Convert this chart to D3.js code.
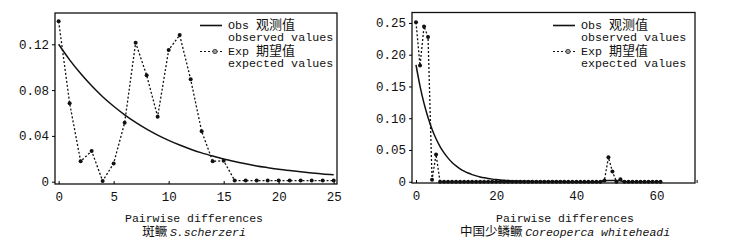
<!DOCTYPE html>
<html>
<head>
<meta charset="utf-8">
<script src="https://cdn.jsdelivr.net/npm/d3@7"></script>
<style>
body{margin:0;background:#fff;}
svg{display:block;}
text{font-family:"Liberation Mono","DejaVu Sans Mono",monospace;fill:#111;}
.cjk{font-family:"Noto Sans CJK SC",sans-serif;}
</style>
</head>
<body>
<svg id="chart" width="751" height="251"></svg>
<script>
// left panel: S. scherzeri
const diffL = d3.range(0, 26);
const obsL = [0.120,0.1064,0.0944,0.0837,0.0742,0.0659,0.0584,0.0518,0.0459,0.0407,0.0361,0.0320,0.0284,0.0252,0.0224,0.0198,0.0176,0.0156,0.0138,0.0123,0.0109,0.0097,0.0086,0.0076,0.0067,0.0060];
const expL = [0.140,0.0685,0.0178,0.0268,0.0006,0.016,0.0515,0.1214,0.0929,0.0568,0.115,0.128,0.0894,0.044,0.0178,0.0183,0.001,0.001,0.001,0.001,0.001,0.001,0.001,0.001,0.001,0.001];
const yTicksL = [0, 0.04, 0.08, 0.12];
const xTicksL = [0, 5, 10, 15, 20, 25];

// right panel: Coreoperca whiteheadi
const diffR = d3.range(0, 62);
const obsR = [0.184,0.1506,0.1233,0.1010,0.0827,0.0677,0.0554,0.0454,0.0372,0.0304,0.0249,0.0204,0.0167,0.0137,0.0112,0.0092,0.0075,0.0061,0.0050,0.0041,0.0034,0.0028,0.0023,0.0018,0.0015,0.0012,0.0010,0.0008,0.0007,0.0006,0.0005,
  0.0004,0.0004,0.0003,0.0003,0.0002,0.0002,0.0002,0.0001,0.0001,0.0001,0.0001,0.0001,0.0001,0.0001,0.0001,0.0001,0.0015,0.002,0.002,0.002,0.0015,0.0001,0.0001,0.0001,0.0001,0.0001,0.0001,0.0001,0.0001,0.0001,0.0001];
const expR = [0.251,0.183,0.2445,0.228,0.003,0.043,
  0,0,0,0,0,0,0,0,0,0,0,0,0,0,0,0,0,0,0,0,0,0,0,0,0,0,0,0,0,0,0,0,0,0,0,0,0,0,0,0,0,
  0.002,0.0385,0.016,0,0.004,0,0,0,0,0,0,0,0,0,0];
const yTicksR = [0, 0.05, 0.10, 0.15, 0.20, 0.25];
const xTicksR = [0, 20, 40, 60, 70];

const svg = d3.select('#chart');
svg.append('rect').attr('width',751).attr('height',251).attr('fill','#fff');

function drawPanel(o){
    let g = svg.append('g');
    let x = d3.scaleLinear().domain(o.xDom).range([o.left, o.right]);
    let y = d3.scaleLinear().domain(o.yDom).range([o.bottom, o.top]);

    // frame
    g.append('rect').attr('x',o.left).attr('y',o.top)
      .attr('width',o.right-o.left).attr('height',o.bottom-o.top)
      .attr('fill','none').attr('stroke','#111').attr('stroke-width',1.3);

    let ya = g.append('g').attr('transform',`translate(${o.left},0)`)
      .call(d3.axisLeft(y).tickValues(o.yTicks).tickSize(3).tickPadding(3).tickFormat(o.yFmt));
    ya.select('.domain').remove();
    ya.selectAll('text').style('font-size','12.5px').style('font-family','"Liberation Mono",monospace');

    let xa = g.append('g').attr('transform',`translate(0,${o.bottom})`)
      .call(d3.axisBottom(x).tickValues(o.xTicks).tickSize(-3).tickPadding(8)
        .tickFormat(d => o.xLabels.includes(d) ? d3.format('d')(d) : ''));
    xa.select('.domain').remove();
    xa.selectAll('text').style('font-size','12.5px').style('font-family','"Liberation Mono",monospace');

    // observed: solid
    let line = d3.line().x((d,i)=>x(o.diff[i])).y(d=>y(d)).curve(d3.curveMonotoneX);
    g.append('path').datum(o.obs).attr('d',line)
      .attr('fill','none').attr('stroke','#111').attr('stroke-width',1.5);

    // expected: dotted with markers
    let line2 = d3.line().x((d,i)=>x(o.diff[i])).y(d=>y(d));
    g.append('path').datum(o.exp).attr('d',line2)
      .attr('fill','none').attr('stroke','#111').attr('stroke-width',1.3).attr('stroke-dasharray','2,2');
    g.selectAll('circle.pt').data(o.exp).join('circle').classed('pt',true)
      .attr('cx',(d,i)=>x(o.diff[i])).attr('cy',d=>y(d)).attr('r',2).attr('fill','#111');

    // legend
    let lx = o.legX;
    g.append('line').attr('x1',lx).attr('x2',lx+22).attr('y1',25.5).attr('y2',25.5)
      .attr('stroke','#111').attr('stroke-width',1.6);
    g.append('line').attr('x1',lx).attr('x2',lx+22).attr('y1',51.5).attr('y2',51.5)
      .attr('stroke','#111').attr('stroke-width',1.2).attr('stroke-dasharray','2,2');
    g.append('circle').attr('cx',lx+15).attr('cy',51.5).attr('r',2.2)
      .attr('fill','#999').attr('stroke','#333').attr('stroke-width',0.8);
    let tx = lx + 28;
    let t1 = g.append('text').attr('x',tx).attr('y',29).style('font-size','11.7px');
    t1.append('tspan').text('Obs ');
    t1.append('tspan').attr('class','cjk').style('font-size','13px').text('观测值');
    g.append('text').attr('x',tx).attr('y',41).style('font-size','11.7px').text('observed values');
    let t2 = g.append('text').attr('x',tx).attr('y',55).style('font-size','11.7px');
    t2.append('tspan').text('Exp ');
    t2.append('tspan').attr('class','cjk').style('font-size','13px').text('期望值');
    g.append('text').attr('x',tx).attr('y',67).style('font-size','11.7px').text('expected values');

    // titles
    g.append('text').attr('x',o.cx).attr('y',222).attr('text-anchor','middle')
      .style('font-size','11.5px').text('Pairwise differences');
    let st = g.append('text').attr('x',o.cx).attr('y',236).attr('text-anchor','middle').style('font-size','11.5px');
    st.append('tspan').attr('class','cjk').style('font-size','12.5px').text(o.cn + ' ');
    st.append('tspan').style('font-style','italic').text(o.latin);
}

drawPanel({
    diff: diffL, obs: obsL, exp: expL,
    xDom: [-0.33, 25.3], yDom: [-0.002, 0.1473],
    left: 55, right: 337, top: 13, bottom: 184,
    yTicks: yTicksL, xTicks: xTicksL, xLabels: xTicksL,
    yFmt: d => d === 0 ? '0' : d3.format('.2f')(d),
    legX: 200, cx: 194, cn: '斑鳜', latin: 'S.scherzeri'
});
drawPanel({
    diff: diffR, obs: obsR, exp: expR,
    xDom: [-1, 69.6], yDom: [-0.002, 0.2665],
    left: 412, right: 695, top: 12.5, bottom: 183,
    yTicks: yTicksR, xTicks: xTicksR, xLabels: [0, 20, 40, 60],
    yFmt: d => d === 0 ? '0' : d3.format('.2f')(d),
    legX: 553, cx: 565, cn: '中国少鳞鳜', latin: 'Coreoperca whiteheadi'
});
</script>
</body>
</html>
